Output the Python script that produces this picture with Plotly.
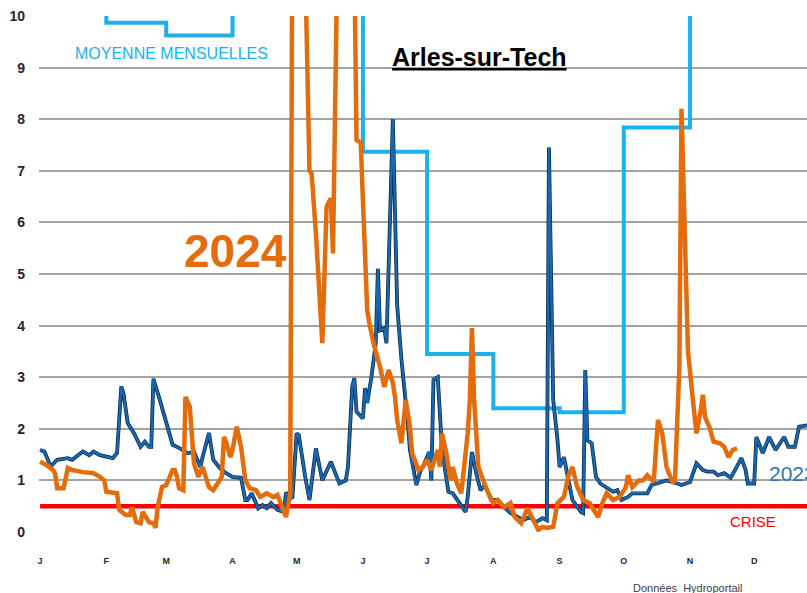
import plotly.graph_objects as go

# ---------------- data (day of year, flow m3/s) ----------------
month_start_days = [0, 31, 59, 90, 120, 151, 181, 212, 243, 273, 304, 334]
month_labels = ["J", "F", "M", "A", "M", "J", "J", "A", "S", "O", "N", "D"]

# monthly means (values above 10 are off the chart; estimated)
mean_days = [0, 31, 59, 90, 120, 151, 181, 212, 243, 273, 304, 334, 365]
mean_values = [12.0, 9.87, 9.62, 12.5, 14.0, 7.37, 3.45, 2.40, 2.32, 7.84, 12.0, 11.0, 11.0]

days_2023 = [0, 2, 5, 8, 13, 15, 20, 23, 25, 28, 31, 34, 36, 38, 39, 41, 44, 47, 49, 51, 52, 53,
             56, 59, 62, 65, 69, 72, 75, 76, 79, 81, 84, 87, 90, 94, 96, 97, 99, 102, 104, 106,
             108, 111, 114, 115, 118, 120, 121, 124, 126, 129, 131, 132, 136, 138, 140, 143, 144,
             146, 147, 148, 151, 152, 153, 155, 157, 158, 159, 161, 162, 165, 166, 167, 169, 171,
             172, 173, 175, 176, 178, 179, 182, 183, 184, 186, 188, 189, 191, 193, 195, 199, 200,
             202, 204, 206, 208, 211, 214, 217, 220, 223, 226, 229, 232, 235, 237, 238, 240, 242,
             243, 245, 247, 248, 249, 253, 254, 255, 256, 258, 260, 262, 265, 268, 270, 272, 275,
             277, 281, 284, 286, 290, 293, 298, 300, 304, 307, 310, 312, 315, 317, 320, 323, 325,
             328, 330, 331, 334, 335, 338, 339, 341, 344, 346, 348, 350, 353, 355, 359, 365]
flow_2023 = [1.59, 1.56, 1.27, 1.40, 1.43, 1.40, 1.56, 1.49, 1.56, 1.49, 1.46, 1.43, 1.53, 2.82, 2.69,
             2.11, 1.91, 1.65, 1.75, 1.65, 1.65, 2.97,
             2.56, 2.11, 1.69, 1.63, 1.53, 1.55, 1.26, 1.45, 1.92, 1.40, 1.24, 1.14, 1.07, 1.05,
             0.62, 0.62, 0.75, 0.46, 0.52, 0.46,
             0.56, 0.43, 0.39, 0.76, 0.65, 1.91, 1.88, 1.07, 0.62, 1.62, 1.20, 1.00, 1.36, 1.14,
             0.94, 1.00, 1.26,
             2.82, 2.98, 2.33, 2.20, 2.79, 2.50, 3.01, 3.66, 5.10, 3.91, 3.95, 3.66, 8.00, 6.10,
             4.40, 3.35, 2.62,
             2.11, 1.59, 1.07, 0.91, 1.20, 1.26, 1.55, 1.00, 2.95, 3.00, 1.59, 1.33, 0.78, 0.75,
             0.62, 0.39, 0.68,
             1.55, 1.14, 0.81, 0.91, 0.62, 0.62, 0.48, 0.37, 0.29, 0.23, 0.29, 0.19, 0.27, 0.23,
             7.45, 2.56, 1.78,
             1.26, 1.45, 1.00, 0.87, 0.62, 0.39, 0.37, 3.14, 1.78, 1.72, 1.07, 0.94, 0.87, 0.78,
             0.81, 0.62, 0.68,
             0.75, 0.75, 0.75, 0.91, 0.97, 1.00, 0.94, 0.91, 0.97, 1.33, 1.20, 1.17, 1.17, 1.10,
             1.14, 1.05, 1.20,
             1.43, 1.20, 0.94, 0.94, 1.84, 1.53, 1.65, 1.84, 1.59, 1.72, 1.84, 1.65, 1.65, 2.04,
             2.07, 2.07]

days_2024 = [0, 3, 6, 7, 8, 11, 13, 15, 20, 25, 28, 30, 31, 36, 37, 40, 42, 43, 45, 47, 48, 50,
             51, 53, 54, 55, 57, 59, 62, 63, 64, 65, 67, 68, 70, 72, 74, 76, 79, 81, 83, 85, 86,
             87, 89, 90, 92, 94, 96, 98, 101, 103, 106, 109, 111, 113, 115, 117, 118, 121, 124,
             126, 127, 129, 131, 132, 134, 136, 137, 139, 143, 147, 148, 150, 151, 153, 154, 156,
             159, 161, 163, 165, 166, 167, 169, 171, 173, 174, 177, 179, 181, 183, 186, 187, 188,
             190, 192, 193, 195, 197, 200, 201, 202, 203, 205, 207, 209, 212, 214, 217, 220, 222,
             225, 228, 230, 233, 235, 237, 240, 242, 245, 247, 249, 251, 254, 257, 261, 263, 265,
             268, 271, 274, 275, 277, 280, 282, 284, 287, 289, 291, 293, 296, 297, 299, 300, 303,
             305, 307, 309, 310, 311, 313, 315, 318, 320, 322, 324, 326]
flow_2024 = [1.36, 1.30, 1.20, 1.14, 0.85, 0.85, 1.24, 1.20, 1.16, 1.14, 1.07, 1.00, 0.78, 0.75,
             0.43, 0.33, 0.33, 0.48, 0.19, 0.17, 0.39, 0.23,
             0.19, 0.17, 0.08, 0.48, 0.87, 0.91, 1.20, 1.20, 1.07, 0.85, 0.81, 2.62, 2.43, 1.33,
             1.07, 1.26, 0.87, 0.81, 0.94, 1.07, 1.84,
             1.75, 1.45, 1.59, 2.04, 1.65, 1.00, 0.85, 0.81, 0.68, 0.75, 0.68, 0.72, 0.48, 0.29,
             0.75, 12.0, 15.0, 11.0,
             7.00, 6.95, 5.80, 4.17, 3.66, 6.30, 6.47, 5.40, 11.0, 14.0, 11.0, 7.60, 7.54, 6.43,
             4.30, 4.05, 3.65,
             3.20, 2.81, 3.14, 2.89, 2.62, 2.17, 1.72, 2.56, 2.04, 1.53, 1.20, 1.26, 1.40, 1.20,
             1.59, 1.26, 1.91,
             1.53, 1.00, 1.26, 0.94, 0.75, 1.91, 2.56, 3.95, 2.56, 1.26, 1.00, 0.81, 0.56, 0.62,
             0.48, 0.56, 0.29,
             0.17, 0.46, 0.29, 0.04, 0.10, 0.08, 0.10, 0.56, 0.68, 1.07, 1.26, 0.90, 0.62, 0.56,
             0.29, 0.56, 0.75,
             0.62, 0.68, 0.87, 1.10, 0.87, 1.00, 1.00, 1.10, 0.97, 2.17, 1.91, 1.26, 0.94, 1.07,
             3.20, 8.20, 3.53,
             2.69, 1.91, 2.36, 2.66, 2.23, 2.04, 1.75, 1.72, 1.65, 1.45, 1.59, 1.62]

crisis_days = [0, 365]
crisis_level = [0.5, 0.5]

y_ticks = list(range(0, 11))

# ---------------- figure ----------------
fig = go.Figure()

fig.add_trace(go.Scatter(x=mean_days, y=mean_values, mode="lines", line_shape="hv",
                         line=dict(color="#1CB0EC", width=4)))
fig.add_trace(go.Scatter(x=crisis_days, y=crisis_level, mode="lines",
                         line=dict(color="#FF0000", width=4.5)))
fig.add_trace(go.Scatter(x=days_2023, y=flow_2023, mode="lines",
                         line=dict(color="#0E2640", width=3.8)))
fig.add_trace(go.Scatter(x=days_2023, y=flow_2023, mode="lines",
                         line=dict(color="#1668B5", width=2.4)))
fig.add_trace(go.Scatter(x=days_2024, y=flow_2024, mode="lines",
                         line=dict(color="#E46C0A", width=4.5)))

fig.update_layout(
    width=807, height=593,
    margin=dict(l=39, r=0, t=16, b=61),
    paper_bgcolor="white", plot_bgcolor="white",
    showlegend=False,
    font=dict(family="Liberation Sans", color="#262626"),
)
fig.update_xaxes(
    range=[-0.5, 358.7],
    tickvals=month_start_days, ticktext=month_labels,
    tickfont=dict(size=9, family="Liberation Sans", weight="bold", color="#262626"),
    showgrid=False, zeroline=False, showline=False, ticks="",
    ticklabelstandoff=22,
)
fig.update_yaxes(
    range=[0, 10], tickvals=y_ticks,
    tickfont=dict(size=14, family="Liberation Sans", weight="bold", color="#262626"),
    showgrid=True, gridcolor="#A3A3A3", gridwidth=1.5,
    zeroline=False, showline=False, ticks="",
    ticklabelstandoff=13,
)

annotations = [
    dict(text="Arles-sur-Tech", x=0.574, y=0.921, xref="paper", yref="paper",
         xanchor="center", yanchor="middle", showarrow=False,
         font=dict(size=25, family="Liberation Sans", weight="bold", color="#000000",
                   lineposition="under")),
    dict(text="MOYENNE MENSUELLES", x=0.1725, y=0.928, xref="paper", yref="paper",
         xanchor="center", yanchor="middle", showarrow=False,
         font=dict(size=16, family="Liberation Sans", color="#1CB0EC")),
    dict(text="2024", x=0.2565, y=0.5455, xref="paper", yref="paper",
         xanchor="center", yanchor="middle", showarrow=False,
         font=dict(size=46, family="Liberation Sans", weight="bold", color="#E46C0A")),
    dict(text="2023", x=0.948, y=0.113, xref="paper", yref="paper",
         xanchor="left", yanchor="middle", showarrow=False,
         font=dict(size=21, family="Liberation Sans", color="#2E75B6")),
    dict(text="CRISE", x=0.930, y=0.0194, xref="paper", yref="paper",
         xanchor="center", yanchor="middle", showarrow=False,
         font=dict(size=15, family="Liberation Sans", color="#FF0000")),
    dict(text="Données  Hydroportail", x=0.8444, y=-0.1085, xref="paper", yref="paper",
         xanchor="center", yanchor="middle", showarrow=False,
         font=dict(size=11, family="Liberation Sans", color="#404040")),
]
fig.update_layout(annotations=annotations)

fig.write_html("out.html",
               config={"displayModeBar": False},
               post_script="document.body.style.margin='0';document.body.style.overflow='hidden';")
